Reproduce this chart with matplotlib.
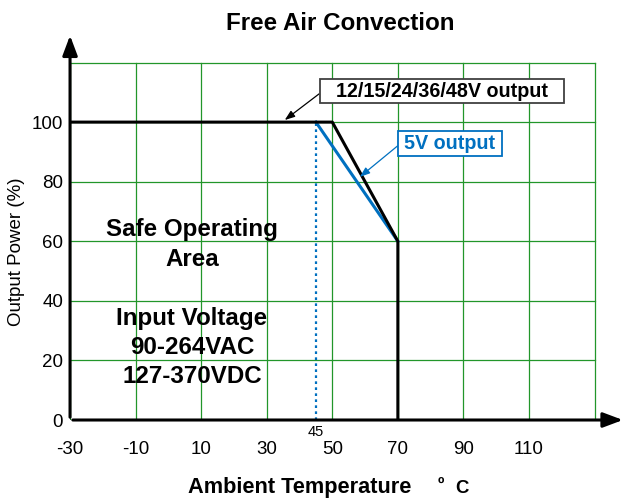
import numpy as np
import matplotlib.pyplot as plt
from matplotlib.patches import Rectangle

plt.rcParams['font.family'] = ['Liberation Sans', 'DejaVu Sans']
plt.rcParams['axes.unicode_minus'] = False

# derating curves
temp_main = [-30, 50, 70, 70]
load_main = [100, 100, 60, 0]
temp_5v = [45, 70]
load_5v = [100, 60]

x_ticks = [-30, -10, 10, 30, 50, 70, 90, 110]
y_ticks = [0, 20, 40, 60, 80, 100]
grid_x = [-30, -10, 10, 30, 50, 70, 90, 110, 130]
grid_y = [20, 40, 60, 80, 100, 120]

green = '#22962a'
blue = '#0070c0'

fig = plt.figure(figsize=(6.31, 5.03), dpi=100)
ax = fig.add_axes([0.111, 0.165, 0.878, 0.764])
ax.set_xlim(-30, 139)
ax.set_ylim(0, 129)
for s in ax.spines.values():
    s.set_visible(False)

# grid
for gx in grid_x:
    ax.plot([gx, gx], [0, 120], color=green, lw=0.9, zorder=1)
for gy in grid_y:
    ax.plot([-30, 130], [gy, gy], color=green, lw=0.9, zorder=1)

# axes arrows
ax.annotate('', xy=(139.5, 0), xytext=(-30, 0),
            arrowprops=dict(arrowstyle='-|>,head_length=1.2,head_width=0.45', color='black', lw=2.2),
            annotation_clip=False, zorder=5)
ax.annotate('', xy=(-30, 130), xytext=(-30, 0),
            arrowprops=dict(arrowstyle='-|>,head_length=1.2,head_width=0.45', color='black', lw=2.2),
            annotation_clip=False, zorder=5)

# curves
ax.plot(temp_5v, load_5v, color=blue, lw=2.2, zorder=3)
ax.plot(temp_main, load_main, color='black', lw=2.2, zorder=4)
ax.plot([45, 45], [0, 100], color=blue, lw=1.6, ls=(0, (1.2, 1.5)), zorder=3)

# ticks
ax.set_xticks(x_ticks)
ax.set_yticks(y_ticks)
ax.tick_params(length=0, labelsize=13.5, pad=15)
ax.tick_params(axis='y', pad=5)
ax.text(45, -4.0, '45', ha='center', va='center', fontsize=10.5)

# labels
fig.text(0.539, 0.940, 'Free Air Convection', ha='center', va='baseline', fontsize=17.4, fontweight='bold')
fig.text(299.5 / 631, 1 - 493 / 503, 'Ambient Temperature', ha='center', va='baseline',
         fontsize=15.7, fontweight='bold')
fig.text(438 / 631, 1 - 490 / 503, '\u00ba', ha='left', va='baseline', fontsize=12.5, fontweight='bold')
fig.text(455 / 631, 1 - 493 / 503, 'C', ha='left', va='baseline', fontsize=13.4, fontweight='bold')
fig.text(16.5 / 631, 1 - 252 / 503, 'Output Power (%)', rotation=90, ha='center', va='center',
         fontsize=13.5)

ax.text(7.2, 59.0, 'Safe Operating\nArea', ha='center', va='center', fontsize=17.4,
        fontweight='bold', linespacing=1.41)
ax.text(7.2, 24.4, 'Input Voltage\n90-264VAC\n127-370VDC', ha='center', va='center', fontsize=17.4,
        fontweight='bold', linespacing=1.34)

# callouts
ax.annotate('', xy=(35.5, 100.7), xytext=(46.0, 109.5),
            arrowprops=dict(arrowstyle='-|>,head_length=0.6,head_width=0.22', color='black', lw=0.9,
                            shrinkA=0, shrinkB=0), zorder=6)
ax.add_patch(Rectangle((46.2, 106.4), 74.4, 8.0, fc='white', ec='#404040', lw=1.3, zorder=6))
ax.text(83.4, 110.4, '12/15/24/36/48V output', ha='center', va='center', fontsize=14.2,
        fontweight='bold', zorder=7)

ax.annotate('', xy=(58.4, 81.6), xytext=(69.9, 92.0),
            arrowprops=dict(arrowstyle='-|>,head_length=0.6,head_width=0.22', color=blue, lw=0.9,
                            shrinkA=0, shrinkB=0), zorder=6)
ax.add_patch(Rectangle((70.0, 88.6), 31.7, 8.4, fc='white', ec=blue, lw=1.3, zorder=6))
ax.text(85.85, 92.8, '5V output', ha='center', va='center', fontsize=14.2,
        fontweight='bold', color=blue, zorder=7)

fig.savefig('out.png', dpi=100)
